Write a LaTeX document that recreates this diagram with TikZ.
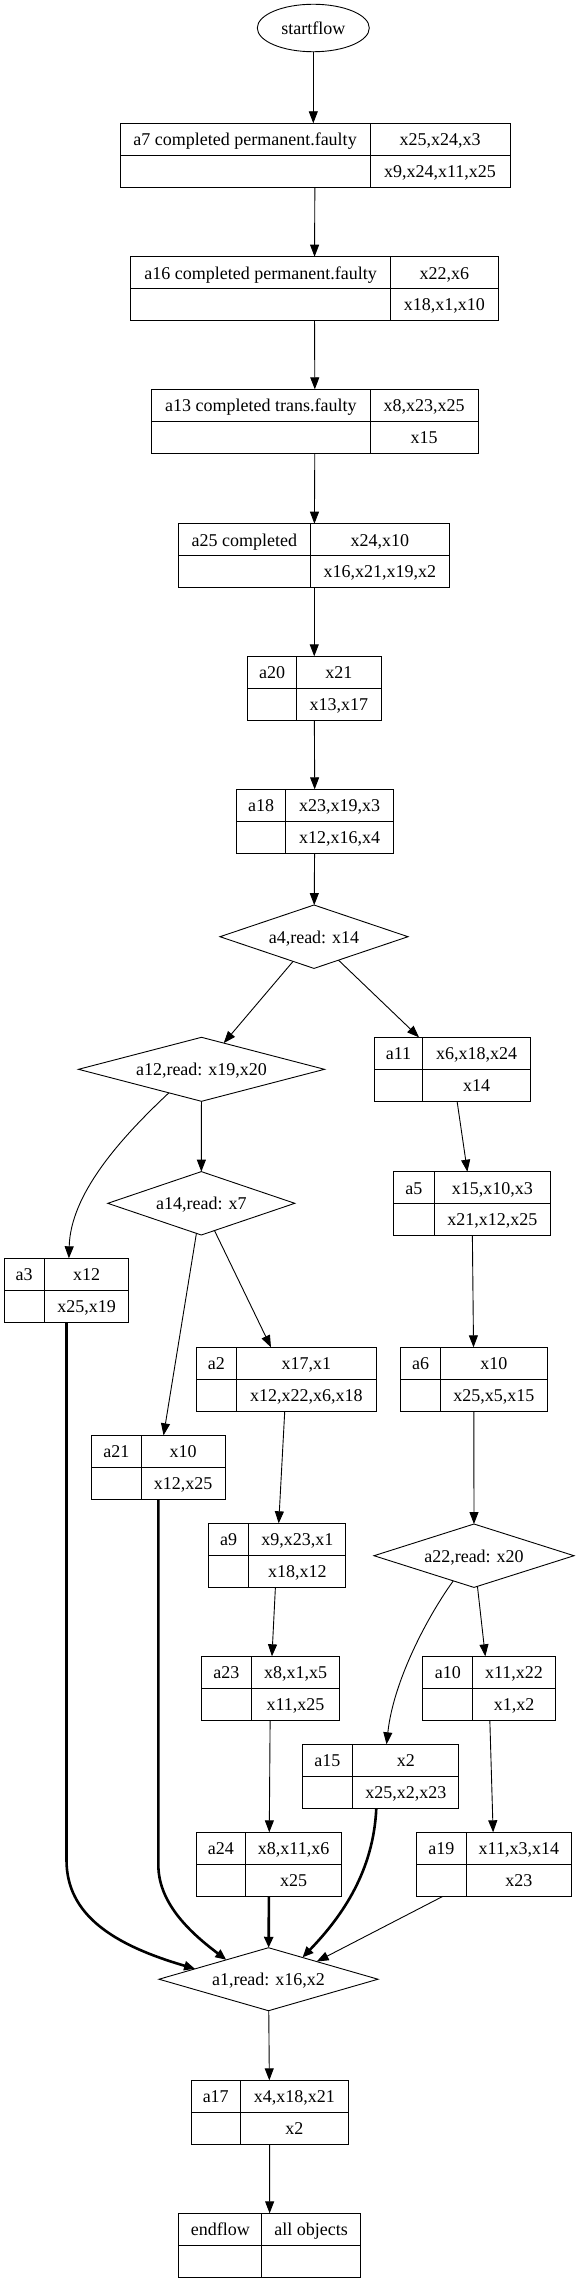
\documentclass[tikz,border=0pt]{standalone}
\usepackage{fontspec}
\setmainfont{Liberation Serif}
\usetikzlibrary{arrows.meta,shapes.geometric,calc}
\tikzset{
  recbox/.style={draw, line width=0.9pt, inner sep=0pt, outer sep=0pt},
  recline/.style={line width=0.9pt},
  txt/.style={inner sep=0pt, anchor=base, font=\fontsize{18}{20}\selectfont},
  dia/.style={draw, diamond, line width=0.9pt, inner sep=0pt, outer sep=0pt},
  ell/.style={draw, ellipse, line width=0.9pt, inner sep=0pt, outer sep=0pt, font=\fontsize{18}{20}\selectfont},
  arr/.style={line width=0.9pt, -{Triangle[length=12pt,width=9pt]}},
  heavyarr/.style={line width=2.6pt, -{Triangle[length=11pt,width=9pt]}},
}
\newcommand\recnode[9]{%
  \node[recbox, minimum width={#4-#2}, minimum height={#6-#5}] (#1) at ({(#2+#4)/2},{(#5+#6)/2}) {};
  \draw[recline] (#3,#5) -- (#3,#6) (#2,{(#5+#6)/2}) -- (#4,{(#5+#6)/2});
  \node[txt] (#1-l) at ({(#2+#3)/2},{(3*#5+#6)/4+6.5}) {#7};
  \node[txt] (#1-r) at ({(#3+#4)/2},{(3*#5+#6)/4+6.5}) {#8};
  \node[txt] (#1-b) at ({(#3+#4)/2},{(#5+3*#6)/4+6.5}) {#9};
}
\newcommand\dianode[6]{%
  \node[dia, minimum width={#4}, minimum height={#5}] (#1) at (#2,#3) {};
  \node[txt] (#1-t) at (#2,{#3+6.5}) {#6};
}
\begin{document}
\begin{tikzpicture}[x=1pt,y=-1pt]
\useasboundingbox (0,0) rectangle (577,2282);
\begin{scope}[xshift=-1.5pt]
\node[ell, minimum width=112, minimum height=47.5] (start) at (314.8,28) {startflow};

\recnode{a7}{121.5}{371.5}{511.5}{123.3}{187.3}{a7 completed permanent.faulty}{x25,x24,x3}{x9,x24,x11,x25}
\recnode{a16}{132.2}{391.9}{499.6}{256.7}{320.3}{a16 completed permanent.faulty}{x22,x6}{x18,x1,x10}
\recnode{a13}{153.3}{371.5}{479.6}{389.3}{453.3}{a13 completed trans.faulty}{x8,x23,x25}{x15}
\recnode{a25}{180.4}{311.5}{451.1}{523.7}{587.3}{a25 completed}{x24,x10}{x16,x21,x19,x2}
\recnode{a20}{248.9}{298.1}{382.6}{656.3}{720.3}{a20}{x21}{x13,x17}
\recnode{a18}{237.8}{287.4}{394.8}{789.3}{853.3}{a18}{x23,x19,x3}{x12,x16,x4}
\recnode{a11}{375.9}{424.1}{531.9}{1037.3}{1101.3}{a11}{x6,x18,x24}{x14}
\recnode{a5}{395.2}{435.6}{551.9}{1171.7}{1235.3}{a5}{x15,x10,x3}{x21,x12,x25}
\recnode{a3}{5.6}{45.6}{130.4}{1258.3}{1322.3}{a3}{x12}{x25,x19}
\recnode{a2}{198.1}{237.8}{377.8}{1347.3}{1411.3}{a2}{x17,x1}{x12,x22,x6,x18}
\recnode{a6}{402.2}{442.2}{548.5}{1347.3}{1411.3}{a6}{x10}{x25,x5,x15}
\recnode{a21}{93}{142.6}{226.7}{1435.3}{1499.3}{a21}{x10}{x12,x25}
\recnode{a9}{209.6}{250.4}{347.4}{1523.3}{1587.3}{a9}{x9,x23,x1}{x18,x12}
\recnode{a23}{202.6}{253}{341.1}{1656.3}{1720.3}{a23}{x8,x1,x5}{x11,x25}
\recnode{a10}{424.1}{474.4}{556.7}{1656.3}{1720.3}{a10}{x11,x22}{x1,x2}
\recnode{a15}{303.7}{354.1}{460.4}{1744.3}{1808.3}{a15}{x2}{x25,x2,x23}
\recnode{a24}{197.8}{247}{343.3}{1832.3}{1896.3}{a24}{x8,x11,x6}{x25}
\recnode{a19}{418.1}{467.8}{573}{1832.3}{1896.3}{a19}{x11,x3,x14}{x23}
\recnode{a17}{192.6}{241.9}{349.6}{2080.3}{2144.3}{a17}{x4,x18,x21}{x2}
\recnode{endflow}{180.4}{263.3}{361.9}{2213.3}{2277.3}{endflow}{all objects}{}

\dianode{a4}{315.5}{936.7}{188}{63.4}{a4,read: x14}
\dianode{a12}{203}{1069.3}{246}{64}{a12,read: x19,x20}
\dianode{a14}{202.8}{1203.3}{187}{63.4}{a14,read: x7}
\dianode{a22}{475.5}{1555.7}{200}{63.4}{a22,read: x20}
\dianode{a1}{270}{1979.2}{219}{63}{a1,read: x16,x2}

% straight chain
\draw[arr] (start.south) -- (start.south |- a7.north);
\draw[arr] (a7) -- (a16);
\draw[arr] (a16) -- (a13);
\draw[arr] (a13) -- (a25);
\draw[arr] (a25) -- (a20);
\draw[arr] (a20) -- (a18);
\draw[arr] (a18) -- (a4);
\draw[arr] (a4) -- (a12);
\draw[arr] (a4) -- (a11);
\draw[arr] (a11) -- (a5);
\draw[arr] (a5) -- (a6);
\draw[arr] (a6) -- (a22);
\draw[arr] (a22) -- (a10);
\draw[arr] (a10) -- (a19);
\draw[arr] (a12) -- (a14);
\draw[arr] (a14) -- (a21);
\draw[arr] (a14) -- (a2);
\draw[arr] (a2) -- (a9);
\draw[arr] (a9) -- (a23);
\draw[arr] (a23) -- (a24);
\draw[arr] (a1) -- (a17);
\draw[arr] (a17) -- (endflow);

% curved
\draw[arr] ($(a12.west)!0.735!(a12.south)$) .. controls (120,1140) and (72,1195) .. ([xshift=2.4pt]a3.north);
\draw[arr] ($(a22.west)!0.793!(a22.south)$) .. controls (430,1615) and (395,1680) .. ([xshift=6pt]a15.north);

% into a1
\coordinate (k3) at (68,1860);
\coordinate (k21) at (159.85,1865);
\draw[heavyarr] (a3.south) -- (k3) .. controls (68,1915) and (115,1945) .. ($(a1.west)!0.33!(a1.north)$);
\draw[heavyarr] (a21.south) -- (k21) .. controls (159.85,1905) and (195,1935) .. ($(a1.west)!0.615!(a1.north)$);
\draw[heavyarr] ([xshift=-4.25pt]a15.south) .. controls (375,1870) and (345,1915) .. ($(a1.north)!0.31!(a1.east)$);
\draw[heavyarr] (a24) -- (a1);
\draw[arr] ([xshift=-51.15pt]a19.south) -- ($(a1.north)!0.44!(a1.east)$);
\end{scope}
\end{tikzpicture}
\end{document}
